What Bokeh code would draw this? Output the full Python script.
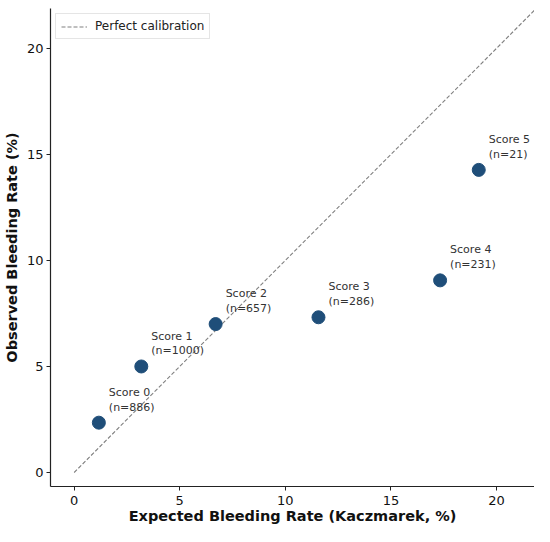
from bokeh.plotting import figure
from bokeh.models import ColumnDataSource, Range1d, FixedTicker, Legend, LegendItem, LabelSet
from bokeh.core.properties import value
from bokeh.embed import file_html
from bokeh.resources import INLINE

scores = ["Score 0", "Score 1", "Score 2", "Score 3", "Score 4", "Score 5"]
counts = [886, 1000, 657, 286, 231, 21]
expected = [1.17, 3.18, 6.70, 11.57, 17.33, 19.16]
observed = [2.35, 5.0, 7.0, 7.32, 9.06, 14.27]
diag = [0, 22]
ticks = [0, 5, 10, 15, 20]

labels = [f"{s}\n(n={n})" for s, n in zip(scores, counts)]
src = ColumnDataSource(dict(x=expected, y=observed, label=labels))

FONT = "DejaVu Sans"
p = figure(width=534, height=526, output_backend="svg", toolbar_location=None,
           x_range=Range1d(-1.12, 21.8), y_range=Range1d(-0.66, 21.88),
           min_border_left=45, min_border_right=0, min_border_top=8, min_border_bottom=0)
p.outline_line_color = None
p.grid.visible = False
p.background_fill_color = "white"

r_line = p.line(diag, diag, line_color="#808080", line_dash="4 2", line_width=1.1)
p.scatter("x", "y", source=src, size=13, fill_color="#1f4e79", line_color="#1f4e79")
lbls = LabelSet(x="x", y="y", text="label", source=src, x_offset=10, y_offset=9,
                text_baseline="bottom", text_align="left", text_font=value(FONT),
                text_font_size=value("11px"), text_color=value("#333333"),
                text_line_height=1.15)
p.add_layout(lbls)

for ax in (p.xaxis[0], p.yaxis[0]):
    ax.ticker = FixedTicker(ticks=ticks)
    ax.minor_tick_line_color = None
    ax.major_tick_out = 4
    ax.major_tick_in = 0
    ax.axis_line_color = "#222222"
    ax.axis_line_width = 1.2
    ax.major_tick_line_color = "#222222"
    ax.major_label_text_font = FONT
    ax.major_label_text_font_size = "13px"
    ax.major_label_text_color = "#111111"
    ax.axis_label_text_font = FONT
    ax.axis_label_text_font_size = "14.5px"
    ax.axis_label_text_font_style = "bold"
    ax.axis_label_text_color = "#111111"

p.xaxis.axis_label = "Expected Bleeding Rate (Kaczmarek, %)"
p.yaxis.axis_label = "Observed Bleeding Rate (%)"
p.xaxis.major_label_standoff = 5
p.xaxis.axis_label_standoff = 0
p.yaxis.major_label_standoff = 3
p.yaxis.axis_label_standoff = 4

legend = Legend(items=[LegendItem(label="Perfect calibration", renderers=[r_line])],
                location="top_left")
legend.margin = 5
legend.padding = 5
legend.spacing = 0
legend.glyph_width = 26
legend.glyph_height = 13
legend.label_height = 13
legend.label_text_font = FONT
legend.label_text_font_size = "12px"
legend.label_text_color = "#222222"
legend.border_line_color = "#cccccc"
legend.border_line_width = 1
legend.background_fill_alpha = 0.9
legend.label_standoff = 8
p.add_layout(legend)

open("out.html", "w").write(file_html(p, INLINE))
